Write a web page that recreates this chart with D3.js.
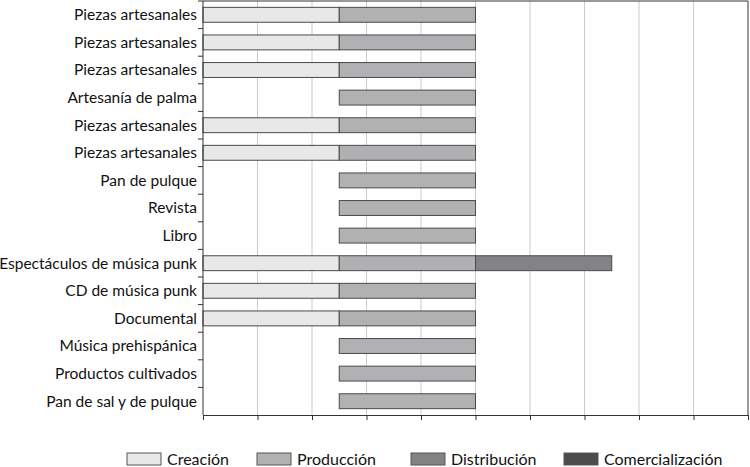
<!DOCTYPE html>
<html>
<head>
<meta charset="utf-8">
<script src="https://cdn.jsdelivr.net/npm/d3@7"></script>
<style>
  body { margin: 0; background: #fff; }
  text { font-family: Lato, "Noto Sans", sans-serif; fill: #111; }
</style>
</head>
<body>
<script>
// Categorías (de arriba abajo)
var categorias = [
  "Piezas artesanales", "Piezas artesanales", "Piezas artesanales",
  "Artesanía de palma", "Piezas artesanales", "Piezas artesanales",
  "Pan de pulque", "Revista", "Libro", "Espectáculos de música punk",
  "CD de música punk", "Documental", "Música prehispánica",
  "Productos cultivados", "Pan de sal y de pulque"
];

var fases = ["Creación", "Producción", "Distribución", "Comercialización"];
var colores = ["#e8e8e9", "#b1b1b3", "#838385", "#4b4b4d"];

// cada fase ocupa su tramo en el eje
var inicioFase = [0, 2.5, 5, 7.5];
var duracionFase = [2.5, 2.5, 2.5, 2.5];

// 1 = la categoría pasa por la fase
var creacion =         [1, 1, 1, 0, 1, 1, 0, 0, 0, 1, 1, 1, 0, 0, 0];
var produccion =       [1, 1, 1, 1, 1, 1, 1, 1, 1, 1, 1, 1, 1, 1, 1];
var distribucion =     [0, 0, 0, 0, 0, 0, 0, 0, 0, 1, 0, 0, 0, 0, 0];
var comercializacion = [0, 0, 0, 0, 0, 0, 0, 0, 0, 0, 0, 0, 0, 0, 0];

var xTicks = d3.range(0, 11);

var width = 750, height = 467;
var margin = {top: 1, right: 2, bottom: 52, left: 203};

var svg = d3.select('body').append('svg')
  .attr('width', width)
  .attr('height', height);

var x = d3.scaleLinear()
  .domain([0, 10])
  .range([margin.left, width - margin.right]);

var y = d3.scaleBand()
  .domain(d3.range(categorias.length))
  .range([margin.top, height - margin.bottom])
  .paddingInner(0.46)
  .paddingOuter(0.23);

// gridlines
svg.append('g')
  .selectAll('line')
  .data(xTicks.slice(1, -1))
  .enter().append('line')
  .attr('x1', function(d) { return x(d); })
  .attr('x2', function(d) { return x(d); })
  .attr('y1', margin.top)
  .attr('y2', height - margin.bottom)
  .attr('stroke', '#cbcbcb')
  .attr('stroke-width', 1);

// bars
var series = [creacion, produccion, distribucion, comercializacion];
var barras = [];
series.forEach(function(s, i) {
  s.forEach(function(v, j) {
    if (v) barras.push({fase: i, fila: j});
  });
});

svg.append('g')
  .selectAll('rect')
  .data(barras)
  .enter().append('rect')
  .attr('x', function(d) { return x(inicioFase[d.fase]); })
  .attr('width', function(d) { return x(inicioFase[d.fase] + duracionFase[d.fase]) - x(inicioFase[d.fase]); })
  .attr('y', function(d) { return y(d.fila); })
  .attr('height', y.bandwidth())
  .attr('fill', function(d) { return colores[d.fase]; })
  .attr('stroke', '#4a4a4a')
  .attr('stroke-width', 1);

// frame top / right
svg.append('line')
  .attr('x1', margin.left).attr('x2', width - margin.right)
  .attr('y1', margin.top).attr('y2', margin.top)
  .attr('stroke', '#333');
svg.append('line')
  .attr('x1', width - margin.right).attr('x2', width - margin.right)
  .attr('y1', margin.top).attr('y2', height - margin.bottom)
  .attr('stroke', '#333');

// x axis
var xAxis = svg.append('g')
  .attr('transform', 'translate(0,' + (height - margin.bottom) + ')')
  .call(d3.axisBottom(x).tickValues(xTicks).tickSize(5).tickFormat('').tickSizeOuter(0));
xAxis.selectAll('path, line').attr('stroke', '#333');

// y axis with ticks at band boundaries
var fronteras = d3.range(categorias.length + 1).map(function(i) {
  return margin.top + i * ((height - margin.bottom - margin.top) / categorias.length);
});
svg.append('line')
  .attr('x1', margin.left).attr('x2', margin.left)
  .attr('y1', margin.top).attr('y2', height - margin.bottom)
  .attr('stroke', '#333');
svg.append('g')
  .selectAll('line')
  .data(fronteras.slice(0, -1))
  .enter().append('line')
  .attr('x1', margin.left - 5).attr('x2', margin.left)
  .attr('y1', function(d) { return d; })
  .attr('y2', function(d) { return d; })
  .attr('stroke', '#333');

// category labels
svg.append('g')
  .selectAll('text')
  .data(categorias)
  .enter().append('text')
  .attr('x', margin.left - 6)
  .attr('y', function(d, i) { return y(i) + y.bandwidth() / 2; })
  .attr('dy', '0.35em')
  .attr('text-anchor', 'end')
  .style('font-size', '15.5px')
  .text(function(d) { return d; });

// legend
var leyendaX = [127, 257, 411, 564];
var leyenda = svg.append('g')
  .selectAll('g')
  .data(fases)
  .enter().append('g')
  .attr('transform', function(d, i) { return 'translate(' + leyendaX[i] + ',453)'; });
leyenda.append('rect')
  .attr('width', 34)
  .attr('height', 12)
  .attr('fill', function(d, i) { return colores[i]; })
  .attr('stroke', '#555')
  .attr('stroke-width', 1);
leyenda.append('text')
  .attr('x', 40)
  .attr('y', 6)
  .attr('dy', '0.35em')
  .style('font-size', '16px')
  .text(function(d) { return d; });
</script>
</body>
</html>
